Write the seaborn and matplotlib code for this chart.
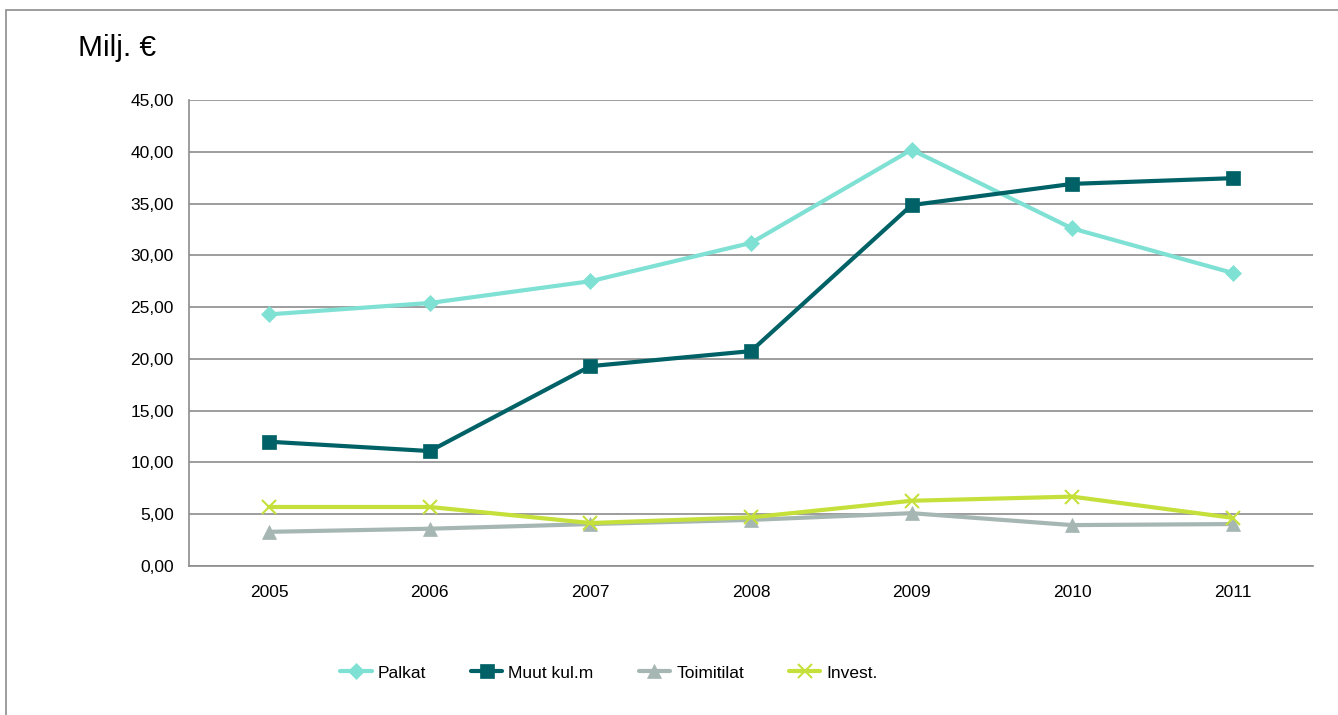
import matplotlib
matplotlib.use("Agg")
import matplotlib.pyplot as plt
import pandas as pd
import seaborn as sns
from matplotlib.patches import Rectangle
from matplotlib.ticker import FixedLocator, FuncFormatter

years = ["2005", "2006", "2007", "2008", "2009", "2010", "2011"]
palkat = [24.3, 25.4, 27.5, 31.2, 40.2, 32.6, 28.3]
muut_kulm = [12.0, 11.1, 19.3, 20.75, 34.85, 36.9, 37.45]
toimitilat = [3.3, 3.6, 4.05, 4.45, 5.1, 3.95, 4.05]
invest = [5.7, 5.7, 4.15, 4.7, 6.3, 6.7, 4.65]

series_names = ["Palkat", "Muut kul.m", "Toimitilat", "Invest."]
series_values = [palkat, muut_kulm, toimitilat, invest]
colors = ["#7fe0d4", "#006266", "#a6b7b3", "#c5e03a"]
markers = ["D", "s", "^", "x"]
marker_sizes = [8, 10, 10, 10]

sns.set_theme(style="white")
plt.rcParams["font.family"] = ["Liberation Sans", "DejaVu Sans"]
plt.rcParams["text.color"] = "black"

rows = []
for name, vals in zip(series_names, series_values):
    for i, v in enumerate(vals):
        rows.append({"pos": i, "year": years[i], "series": name, "value": v})
df = pd.DataFrame(rows)

fig = plt.figure(figsize=(13.38, 7.15), dpi=100)
ax = fig.add_axes([189 / 1338, 1 - 566 / 715, (1313 - 189) / 1338, (566 - 100) / 715])

# outer chart frame (only top and left edges visible)
fig.patches.append(Rectangle((6 / 1338, -0.1), 1.2, 1.1 - 10 / 715, transform=fig.transFigure,
                             fill=False, edgecolor="#8c8c8c", linewidth=1.2))

for name, color, marker, ms in zip(series_names, colors, markers, marker_sizes):
    sub = df[df["series"] == name]
    sns.lineplot(data=sub, x="pos", y="value", ax=ax, color=color, linewidth=3.0,
                 marker=marker, markersize=ms, markeredgecolor=color,
                 markeredgewidth=1.5 if marker == "x" else 0.5, label=name, legend=False)

ax.set_xlim(-0.5, len(years) - 0.5)
ax.set_ylim(0, 45)
ax.set_yticks(range(0, 46, 5))
ax.yaxis.set_major_formatter(FuncFormatter(lambda v, p: f"{v:.2f}".replace(".", ",")))
ax.set_xticks(range(len(years)))
ax.set_xticklabels(years)
ax.xaxis.set_minor_locator(FixedLocator([i - 0.5 for i in range(len(years) + 1)]))
ax.tick_params(axis="x", which="major", length=0, pad=14, labelsize=12.5, labelcolor="black")
ax.tick_params(axis="x", which="minor", length=6, color="#8c8c8c", width=1.2, direction="out")
ax.tick_params(axis="y", length=6, color="#8c8c8c", width=1.2, direction="out", pad=5,
               labelsize=12.5, labelcolor="black")
ax.yaxis.grid(True, color="#8c8c8c", linewidth=1.2)
ax.set_axisbelow(True)
for s in ["top", "right"]:
    ax.spines[s].set_visible(False)
for s in ["left", "bottom"]:
    ax.spines[s].set_color("#8c8c8c")
    ax.spines[s].set_linewidth(1.2)
ax.set_xlabel("")
ax.set_ylabel("")

fig.text(78 / 1338, 1 - 48 / 715, "Milj. €", fontsize=21.5, va="center", ha="left", color="black")

handles, labels = ax.get_legend_handles_labels()
fig.legend(handles, labels, loc="center", bbox_to_anchor=(609 / 1338, 1 - 673 / 715), ncol=4,
           frameon=False, fontsize=12.5, handlelength=1.8, handletextpad=0.35, columnspacing=2.6,
           labelcolor="black")

fig.savefig("out.png", dpi=100)
